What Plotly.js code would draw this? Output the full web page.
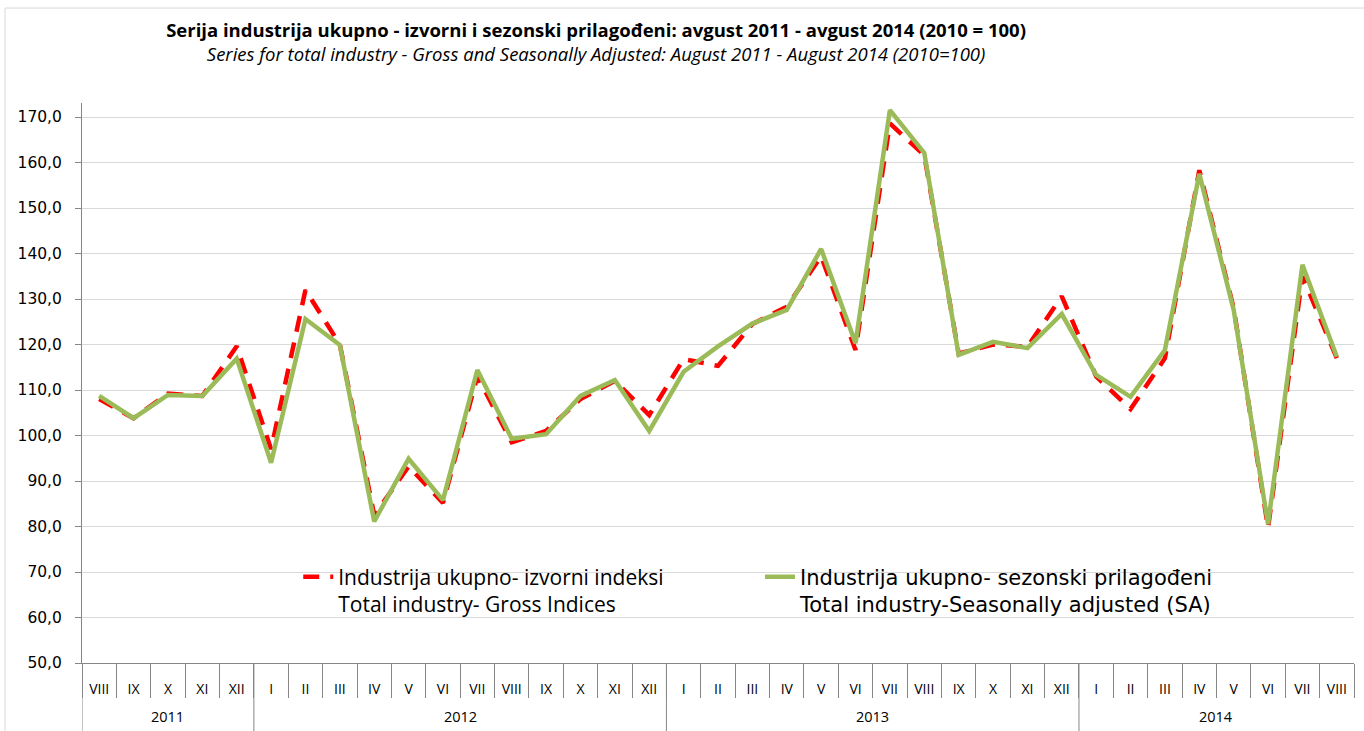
<!DOCTYPE html>
<html>
<head>
<meta charset="utf-8">
<script src="https://cdn.plot.ly/plotly-3.0.1.min.js"></script>
<style>html,body{margin:0;padding:0;background:#fff;}#chart{width:1364px;height:731px;}</style>
</head>
<body>
<div id="chart"></div>
<script>
// Category labels
var years = ['2011','2011','2011','2011','2011',
  '2012','2012','2012','2012','2012','2012','2012','2012','2012','2012','2012','2012',
  '2013','2013','2013','2013','2013','2013','2013','2013','2013','2013','2013','2013',
  '2014','2014','2014','2014','2014','2014','2014','2014'];
var months = ['VIII','IX','X','XI','XII',
  'I','II','III','IV','V','VI','VII','VIII','IX','X','XI','XII',
  'I','II','III','IV','V','VI','VII','VIII','IX','X','XI','XII',
  'I','II','III','IV','V','VI','VII','VIII'];

// Industrija ukupno - izvorni indeksi (gross)
var gross = [108.0, 103.8, 109.2, 108.7, 119.6,
  97.0, 132.0, 120.0, 82.5, 93.2, 85.2, 113.0, 98.5, 101.0, 108.0, 112.0, 104.5,
  116.8, 115.3, 124.5, 128.3, 139.4, 118.8, 168.6, 161.6, 118.0, 120.0, 119.5, 130.6,
  113.0, 105.8, 117.0, 158.3, 128.0, 79.7, 135.0, 117.0];

// Industrija ukupno - sezonski prilagodjeni (SA)
var sa = [108.7, 103.8, 108.9, 108.7, 116.9,
  94.0, 125.6, 119.9, 81.1, 94.9, 85.8, 114.4, 99.3, 100.3, 108.7, 112.2, 101.0,
  114.0, 119.6, 124.6, 127.6, 141.0, 120.3, 171.5, 162.1, 117.7, 120.6, 119.2, 126.7,
  113.3, 108.5, 118.8, 157.5, 127.6, 80.5, 137.5, 117.3];

var name1 = 'Industrija ukupno- izvorni indeksi<br>Total industry- Gross Indices';
var name2 = 'Industrija ukupno- sezonski prilagođeni<br>Total industry-Seasonally adjusted (SA)';

// category positions on the axis (index of each month)
var idx = months.map(function(_, i){ return i; });
var boundaries = [];
for (var b = 0; b <= months.length; b++) boundaries.push(b - 0.5);

// year groups: centre label + dividers
var annotations = [];
var shapes = [];
var yBottom = -0.125;
var start = 0;
for (var i = 1; i <= years.length; i++) {
  if (i === years.length || years[i] !== years[start]) {
    annotations.push({x:(start + i - 1) / 2, xref:'x', y:-0.0964, yref:'paper',
      text:years[start], showarrow:false, xanchor:'center', yanchor:'middle',
      font:{family:'Open Sans', size:14.5, color:'#000'}});
    if (i < years.length) {
      shapes.push({type:'line', xref:'x', yref:'paper', x0:i - 0.5, x1:i - 0.5, y0:0, y1:yBottom,
        line:{color:'#868686', width:1}});
    }
    start = i;
  }
}
shapes.push({type:'line', xref:'x', yref:'paper', x0:-0.5, x1:-0.5, y0:0, y1:yBottom,
  line:{color:'#868686', width:1}});
shapes.push({type:'rect', xref:'paper', yref:'paper', x0:-0.0605, x1:1.05, y0:-0.2, y1:1.1696,
  line:{color:'#D9D9D9', width:1}, fillcolor:'rgba(0,0,0,0)', layer:'below'});

var traces = [
  {x:idx, y:gross, type:'scatter', mode:'lines', name:name1,
   line:{color:'#FF0000', width:4.5, dash:'16px,11px'}, legend:'legend'},
  {x:idx, y:sa, type:'scatter', mode:'lines', name:name2,
   line:{color:'#9BBB59', width:4.5}, legend:'legend2'}
];

var layout = {
  width:1364, height:731,
  paper_bgcolor:'#fff', plot_bgcolor:'#fff',
  separators:',.',
  margin:{l:82, r:10, t:103, b:68},
  title:{
    text:'<b>Serija industrija ukupno - izvorni i sezonski prilagođeni: avgust 2011 - avgust 2014 (2010 = 100)</b><br><i>Series for total industry - Gross and Seasonally Adjusted: August 2011 - August 2014 (2010=100)</i>',
    font:{family:'Open Sans', size:18.5, color:'#000'},
    x:0.437, xanchor:'center', xref:'container',
    y:0.95, yanchor:'top', yref:'container'
  },
  xaxis:{
    type:'linear',
    range:[-0.5, months.length - 0.5],
    tickmode:'array', tickvals:idx, ticktext:months,
    ticks:'', ticklabelstandoff:13,
    showgrid:false,
    showline:true, linecolor:'#868686', linewidth:1,
    minor:{tickmode:'array', tickvals:boundaries, ticks:'outside', ticklen:34,
           tickcolor:'#868686', tickwidth:1, showgrid:false},
    tickfont:{family:'Open Sans', size:14, color:'#000'},
    zeroline:false
  },
  yaxis:{
    range:[50, 173.08],
    tick0:50, dtick:10, tickformat:'.1f',
    showgrid:true, gridcolor:'#D9D9D9', gridwidth:1,
    showline:true, linecolor:'#868686', linewidth:1,
    ticks:'outside', ticklen:6, tickcolor:'#868686',
    ticklabelstandoff:10,
    tickfont:{family:'DejaVu Sans', size:15.5, color:'#000'},
    zeroline:false
  },
  showlegend:true,
  legend:{
    x:0.170, xanchor:'left', y:0.19, yanchor:'top',
    bgcolor:'rgba(0,0,0,0)', valign:'top',
    font:{family:'Open Sans', size:21, color:'#000'}
  },
  legend2:{
    x:0.533, xanchor:'left', y:0.19, yanchor:'top',
    bgcolor:'rgba(0,0,0,0)', valign:'top',
    font:{family:'DejaVu Sans', size:21, color:'#000'}
  },
  annotations:annotations,
  shapes:shapes
};

Plotly.newPlot('chart', traces, layout, {displayModeBar:false, staticPlot:true});
</script>
</body>
</html>
